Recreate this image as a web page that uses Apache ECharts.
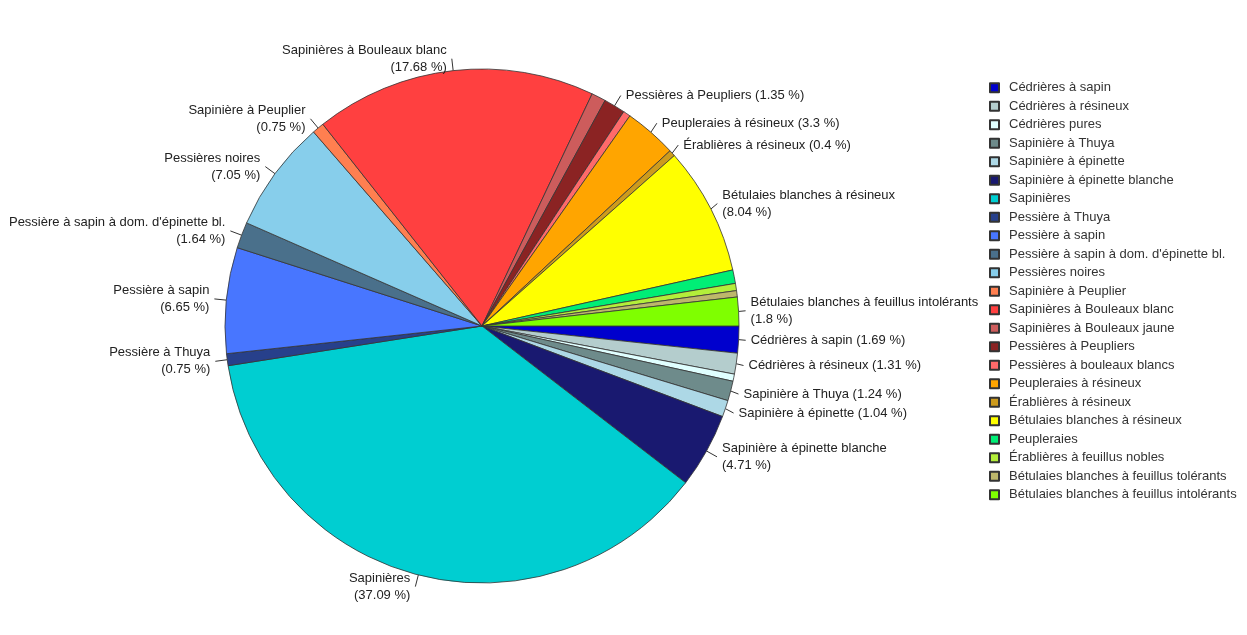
<!DOCTYPE html>
<html>
<head>
<meta charset="utf-8">
<title>Répartition des peuplements</title>
<script src="https://cdn.jsdelivr.net/npm/echarts@6/dist/echarts.min.js"></script>
<style>
  html, body { margin: 0; padding: 0; background: #fff; }
  #main { width: 1247px; height: 635px; }
</style>
</head>
<body>
<div id="main"></div>
<script>
// types de peuplement (ordre de la légende et des pointes)
var categories = [
    'Cédrières à sapin', 'Cédrières à résineux', 'Cédrières pures', 'Sapinière à Thuya',
    'Sapinière à épinette', 'Sapinière à épinette blanche', 'Sapinières', 'Pessière à Thuya',
    'Pessière à sapin', "Pessière à sapin à dom. d'épinette bl.", 'Pessières noires',
    'Sapinière à Peuplier', 'Sapinières à Bouleaux blanc', 'Sapinières à Bouleaux jaune',
    'Pessières à Peupliers', 'Pessières à bouleaux blancs', 'Peupleraies à résineux',
    'Érablières à résineux', 'Bétulaies blanches à résineux', 'Peupleraies',
    'Érablières à feuillus nobles', 'Bétulaies blanches à feuillus tolérants',
    'Bétulaies blanches à feuillus intolérants'
];
// pourcentages (les valeurs sans étiquette sont estimées)
var values = [
    1.69, 1.31, 0.45, 1.24,
    1.04, 4.71, 37.09, 0.75,
    6.65, 1.64, 7.05,
    0.75, 17.68, 0.9,
    1.35, 0.46, 3.3,
    0.4, 8.04, 0.85,
    0.45, 0.4,
    1.8
];
// pointes affichées avec une étiquette
var labelled = [
    'Cédrières à sapin', 'Cédrières à résineux', 'Sapinière à Thuya', 'Sapinière à épinette',
    'Sapinière à épinette blanche', 'Sapinières', 'Pessière à Thuya', 'Pessière à sapin',
    "Pessière à sapin à dom. d'épinette bl.", 'Pessières noires', 'Sapinière à Peuplier',
    'Sapinières à Bouleaux blanc', 'Pessières à Peupliers', 'Peupleraies à résineux',
    'Érablières à résineux', 'Bétulaies blanches à résineux', 'Bétulaies blanches à feuillus intolérants'
];
// étiquettes sur une seule ligne
var oneLine = [
    'Pessières à Peupliers', 'Peupleraies à résineux', 'Érablières à résineux',
    'Cédrières à sapin', 'Cédrières à résineux', 'Sapinière à Thuya', 'Sapinière à épinette'
];
var colors = [
    '#0000CD', '#B4CDCD', '#E0FFFF', '#6E8B8B',
    '#ADD8E6', '#191970', '#00CED1', '#27408B',
    '#4876FF', '#4A708B', '#87CEEB',
    '#FF7F50', '#FF4040', '#CD5C5C',
    '#8B2323', '#FF6A6A', '#FFA500',
    '#CD9B1D', '#FFFF00', '#00EE76',
    '#B3EE3A', '#BDB76B',
    '#7FFF00'
];

var pieData = [];
for (var i = 0; i < categories.length; i++) {
    var item = {name: categories[i], value: values[i], itemStyle: {color: colors[i]}};
    if (labelled.indexOf(categories[i]) < 0) {
        item.label = {show: false};
        item.labelLine = {show: false};
    }
    pieData.push(item);
}

var myChart = echarts.init(document.getElementById('main'));
myChart.setOption({
    backgroundColor: '#ffffff',
    animation: false,
    textStyle: {fontFamily: 'Liberation Sans, Arial, sans-serif'},
    legend: {
        orient: 'vertical',
        left: 984,
        top: 75,
        itemWidth: 9,
        itemHeight: 9,
        itemGap: 3,
        icon: 'rect',
        data: categories,
        textStyle: {
            color: '#333',
            fontSize: 13,
            lineHeight: 15.5,
            padding: [0, 0, 0, 5],
            fontFamily: 'Liberation Sans, Arial, sans-serif'
        }
    },
    series: [{
        type: 'pie',
        center: [482, 326],
        radius: 257,
        startAngle: 0,
        clockwise: true,
        minShowLabelAngle: 0,
        avoidLabelOverlap: true,
        itemStyle: {borderColor: '#333', borderWidth: 0.8},
        label: {
            color: '#222',
            fontSize: 13,
            lineHeight: 17,
            overflow: 'none',
            fontFamily: 'Liberation Sans, Arial, sans-serif',
            formatter: function (p) {
                if (oneLine.indexOf(p.name) >= 0) {
                    return p.name + ' (' + p.value + ' %)';
                }
                return p.name + '\n(' + p.value + ' %)';
            }
        },
        labelLine: {
            length: 12,
            length2: 0,
            lineStyle: {color: '#333', width: 1}
        },
        data: pieData
    }]
});
</script>
</body>
</html>
